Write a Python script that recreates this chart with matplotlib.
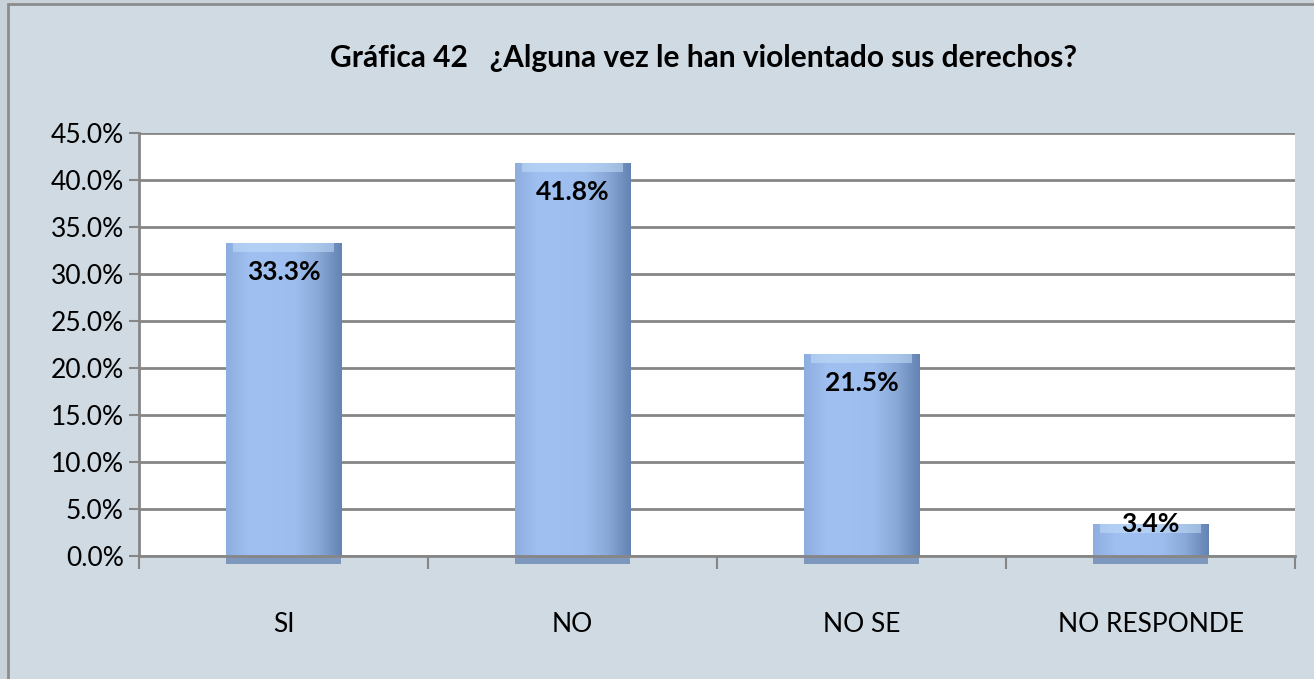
import numpy as np
import matplotlib
matplotlib.use("Agg")
import matplotlib.pyplot as plt
from matplotlib.patches import Rectangle

categories = ["SI", "NO", "NO SE", "NO RESPONDE"]
values = [33.3, 41.8, 21.5, 3.4]
y_ticks = [0, 5, 10, 15, 20, 25, 30, 35, 40, 45]
title = "Gráfica 42   ¿Alguna vez le han violentado sus derechos?"

plt.rcParams['font.family'] = ['Lato', 'DejaVu Sans']

fig = plt.figure(figsize=(13.14, 6.79), dpi=100)
fig.patch.set_facecolor("#c9d2d9")

# chart area frame
frame = Rectangle((8 / 1314, -0.01), 1.0, 1 - 4 / 679 + 0.01, transform=fig.transFigure,
                  facecolor="#cfdae3", edgecolor="#8c8c8c", linewidth=2, zorder=-5)
fig.patches.append(frame)

ax = fig.add_axes([139 / 1314, 1 - 556 / 679, (1295 - 139) / 1314, (556 - 133) / 679])
ax.set_facecolor("white")

x = np.arange(len(categories))
bars = ax.bar(x, values, width=0.4, color="#9cbdee", edgecolor="none", zorder=3)

# shading on the bars
grad = np.linspace(0, 1, 100)
cmap = matplotlib.colors.LinearSegmentedColormap.from_list(
    "bar", ["#8eaee0", "#a0c0f1", "#9ebff0", "#9cbdee", "#8aa9d8", "#6484b3"])
for b in bars:
    x0, w, h = b.get_x(), b.get_width(), b.get_height()
    im = ax.imshow(grad[None, :], cmap=cmap, aspect="auto",
                   extent=(x0, x0 + w, 0, h), zorder=4)
    im.set_clip_path(b)
    top = min(1.0, h * 0.3)
    ax.add_patch(Rectangle((x0 + 0.025, h - top), w - 0.05, top, facecolor="#c4def8",
                           edgecolor="none", alpha=0.55, zorder=5))
    ax.add_patch(Rectangle((x0, -0.8), w, 0.8, facecolor="#7d97bd",
                           edgecolor="none", clip_on=False, zorder=2))

for xi, v in zip(x, values):
    if v > 6:
        ax.annotate(f"{v:.1f}%", (xi, v), xytext=(0, -12), textcoords="offset points",
                    ha="center", va="top", fontsize=19, fontweight="bold", zorder=6)
    else:
        ax.annotate(f"{v:.1f}%", (xi, v), xytext=(0, 0), textcoords="offset points",
                    ha="center", va="center", fontsize=19, fontweight="bold", zorder=6)

ax.set_xlim(-0.5, len(categories) - 0.5)
ax.set_ylim(0, 45)
ax.set_yticks(y_ticks)
ax.set_yticklabels([f"{t:.1f}%" for t in y_ticks], fontsize=19)
ax.yaxis.grid(True, color="#868686", linewidth=2, zorder=1)
ax.set_axisbelow(True)

ax.set_xticks(np.arange(len(categories) + 1) - 0.5)
ax.set_xticklabels([])
ax.set_xticks(x, minor=True)
ax.set_xticklabels(categories, minor=True, fontsize=19)
ax.tick_params(axis="x", which="minor", length=0, pad=40)
ax.tick_params(axis="x", which="major", length=9, width=1.5, color="#868686", direction="out")
ax.tick_params(axis="y", length=7, width=1.5, color="#868686", pad=4)

for s in ["top", "right"]:
    ax.spines[s].set_visible(False)
for s in ["left", "bottom"]:
    ax.spines[s].set_color("#868686")
    ax.spines[s].set_linewidth(2)
ax.spines["bottom"].set_zorder(6)

fig.text(703 / 1314, 1 - 58 / 679, title, ha="center", va="center",
         fontsize=21.5, fontweight="bold")

fig.savefig("out.png", dpi=100, facecolor=fig.get_facecolor())
